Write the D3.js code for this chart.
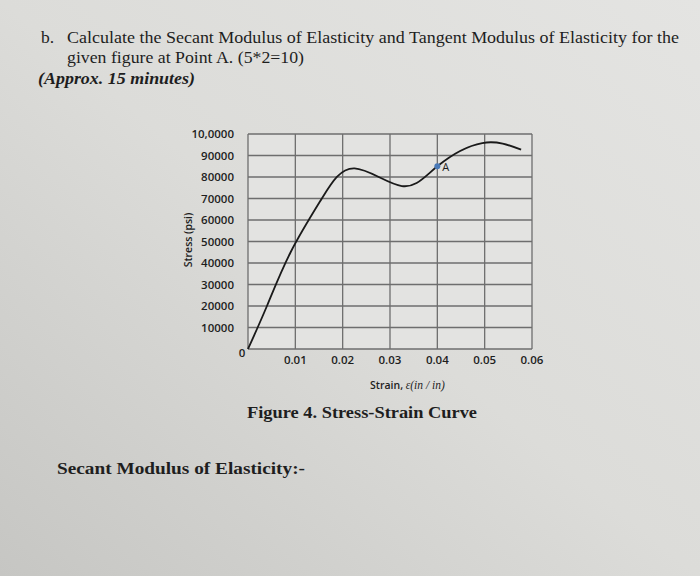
<!DOCTYPE html>
<html><head><meta charset="utf-8">
<script src="https://cdn.jsdelivr.net/npm/d3@7"></script>
<style>html,body{margin:0;padding:0;overflow:hidden;}</style>
</head><body>
<svg id="c" width="700" height="576"></svg>
<script>
const strain = [0, 0.004, 0.009, 0.0156, 0.0225, 0.0325, 0.04, 0.0495, 0.0577];
const stress = [0, 20000, 45000, 70000, 84000, 75800, 85000, 95800, 92700];
const pointA = {strain: 0.04, stress: 85000, label: "A"};
const yTicks = [10000, 20000, 30000, 40000, 50000, 60000, 70000, 80000, 90000, 100000];
const yTickLabels = ["10000","20000","30000","40000","50000","60000","70000","80000","90000","10,0000"];
const xTicks = [0.01, 0.02, 0.03, 0.04, 0.05, 0.06];
const xTickLabels = ["0.01","0.02","0.03","0.04","0.05","0.06"];

const svg = d3.select("#c");
const defs = svg.append("defs");
const g1 = defs.append("linearGradient").attr("id","paper").attr("x1","1").attr("y1","0").attr("x2","0").attr("y2","1");
g1.append("stop").attr("offset","0").attr("stop-color","#e4e4e2");
g1.append("stop").attr("offset","0.5").attr("stop-color","#dcdcd9");
g1.append("stop").attr("offset","1").attr("stop-color","#c6c6c3");
svg.append("rect").attr("width",700).attr("height",576).attr("fill","url(#paper)");

const serif = "'Liberation Serif','Times New Roman',serif";
const sans = "'Open Sans','Noto Sans',sans-serif";
const ink = "#1e1e1e";

// header text
svg.append("text").attr("x",41).attr("y",43).attr("font-family",serif).attr("font-size",17.5).attr("fill",ink).text("b.");
svg.append("text").attr("x",67).attr("y",43).attr("font-family",serif).attr("font-size",17.5).attr("fill",ink)
  .attr("textLength",612).attr("lengthAdjust","spacingAndGlyphs")
  .text("Calculate the Secant Modulus of Elasticity and Tangent Modulus of Elasticity for the");
svg.append("text").attr("x",67).attr("y",63).attr("font-family",serif).attr("font-size",17.5).attr("fill",ink)
  .attr("textLength",237).attr("lengthAdjust","spacingAndGlyphs")
  .text("given figure at Point A. (5*2=10)");
svg.append("text").attr("x",38).attr("y",84).attr("font-family",serif).attr("font-size",17).attr("font-weight","bold").attr("font-style","italic").attr("fill",ink)
  .attr("textLength",157).attr("lengthAdjust","spacingAndGlyphs")
  .text("(Approx. 15 minutes)");

// chart
const x = d3.scaleLinear().domain([0,0.06]).range([248,532]);
const y = d3.scaleLinear().domain([0,100000]).range([349,134]);

svg.append("rect").attr("x",248).attr("y",134).attr("width",284).attr("height",215).attr("fill","#e3e3e1");

const grid = svg.append("g").attr("stroke","#6e6e6e").attr("stroke-width",1.3);
grid.selectAll("line.h").data([0].concat(yTicks)).join("line").attr("class","h")
  .attr("x1",x(0)).attr("x2",x(0.06)).attr("y1",d=>y(d)).attr("y2",d=>y(d));
grid.selectAll("line.v").data([0].concat(xTicks)).join("line").attr("class","v")
  .attr("x1",d=>x(d)).attr("x2",d=>x(d)).attr("y1",y(0)).attr("y2",y(100000));

// y tick labels
svg.append("g").selectAll("text").data(yTicks).join("text")
  .attr("x",234).attr("y",d=>y(d)+4).attr("text-anchor","end")
  .attr("font-family",sans).attr("font-size",11.5).attr("font-weight",600).attr("fill",ink)
  .text((d,i)=>yTickLabels[i]);
// x tick labels
svg.append("g").selectAll("text").data(xTicks).join("text")
  .attr("x",d=>x(d)).attr("y",364).attr("text-anchor","middle")
  .attr("font-family",sans).attr("font-size",11.5).attr("font-weight",600).attr("fill",ink)
  .text((d,i)=>xTickLabels[i]);
svg.append("text").attr("x",242).attr("y",357).attr("text-anchor","middle")
  .attr("font-family",sans).attr("font-size",11.5).attr("font-weight",600).attr("fill",ink).text("0");

// axis titles
svg.append("text").attr("transform","translate(192,240) rotate(-90)").attr("text-anchor","middle")
  .attr("font-family",sans).attr("font-size",10.5).attr("font-weight",600).attr("fill",ink).text("Stress (psi)");
const xt = svg.append("text").attr("x",370).attr("y",389).attr("font-family",sans).attr("font-size",10.5).attr("font-weight",600).attr("fill",ink);
xt.append("tspan").text("Strain, ");
xt.append("tspan").attr("font-family",serif).attr("font-style","italic").attr("font-weight","normal").attr("font-size",11.5).text("ε(in / in)");

// curve
const pts = strain.map((s,i)=>[s,stress[i]]);
const line = d3.line().x(d=>x(d[0])).y(d=>y(d[1])).curve(d3.curveNatural);
svg.append("path").attr("d",line(pts)).attr("fill","none").attr("stroke","#1a1a1a").attr("stroke-width",1.8);

// point A
svg.append("circle").attr("cx",x(pointA.strain)).attr("cy",y(pointA.stress)).attr("r",3).attr("fill","#4a7ab8");
svg.append("text").attr("x",x(pointA.strain)+5).attr("y",y(pointA.stress)+5)
  .attr("font-family",sans).attr("font-size",11).attr("fill",ink).text(pointA.label);

// captions
svg.append("text").attr("x",247).attr("y",418).attr("font-family",serif).attr("font-size",17.5).attr("font-weight","bold").attr("fill",ink)
  .attr("textLength",230).attr("lengthAdjust","spacingAndGlyphs").text("Figure 4. Stress-Strain Curve");
svg.append("text").attr("x",57).attr("y",474).attr("font-family",serif).attr("font-size",17.5).attr("font-weight","bold").attr("fill",ink)
  .attr("textLength",248).attr("lengthAdjust","spacingAndGlyphs").text("Secant Modulus of Elasticity:-");
</script>
</body></html>
